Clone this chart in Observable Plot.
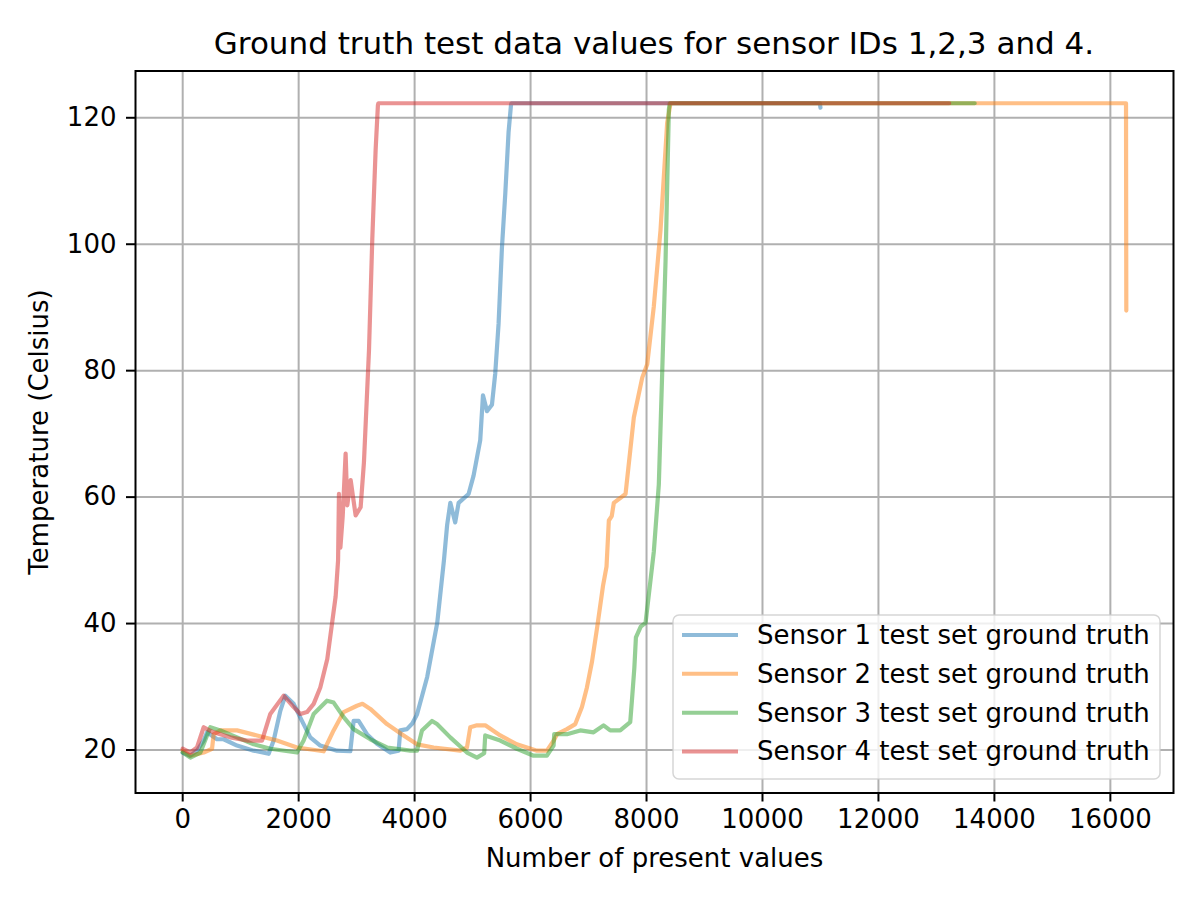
<!DOCTYPE html>
<html>
<head>
<meta charset="utf-8">
<script src="https://cdn.jsdelivr.net/npm/d3@7"></script>
<script src="https://cdn.jsdelivr.net/npm/@observablehq/plot@0.6"></script>
<style>
  body { margin: 0; background: #fff; font-family: "DejaVu Sans", sans-serif; }
  #wrap { position: relative; width: 1200px; height: 899px; overflow: hidden; }
  #title { box-sizing: border-box; height: 60px; padding-top: 28px; padding-left: 135px; width: 1173px;
           text-align: center; font-size: 31px; line-height: 30px; color: #000; white-space: nowrap; }
  #legend { position: absolute; left: 0; top: 0; pointer-events: none; }
</style>
</head>
<body>
<div id="wrap">
  <div id="title">Ground truth test data values for sensor IDs 1,2,3 and 4.</div>
  <div id="chart"></div>
</div>
<script>
const titleText = "Ground truth test data values for sensor IDs 1,2,3 and 4.";
const sensorNames = [
  "Sensor 1 test set ground truth",
  "Sensor 2 test set ground truth",
  "Sensor 3 test set ground truth",
  "Sensor 4 test set ground truth"
];
const sensorColors = ["#1f77b4", "#ff7f0e", "#2ca02c", "#d62728"];
const xTicks = [0, 2000, 4000, 6000, 8000, 10000, 12000, 14000, 16000];
const yTicks = [20, 40, 60, 80, 100, 120];

// [number of present values, temperature °C]
const sensor1 = [
  [0,19.6],[132,19.1],[247,19.9],[362,21.5],[420,22.8],[592,21.7],[707,21.7],[937,20.7],[1224,19.9],[1483,19.4],
  [1569,21.5],[1684,26.2],[1770,28.6],[1914,27.3],[2057,24.6],[2201,22.0],[2373,20.7],[2661,19.9],[2891,19.8],
  [2948,24.6],[3034,24.6],[3178,22.5],[3350,21.0],[3580,19.6],[3724,19.9],[3753,23.1],[3868,23.3],[3960,24.2],
  [4040,25.6],[4127,28.5],[4218,31.6],[4390,40.1],[4506,50.0],[4561,55.6],[4616,59.1],[4700,56.0],[4759,59.1],
  [4931,60.5],[5017,63.4],[5132,69.0],[5179,76.1],[5248,73.6],[5334,74.6],[5391,79.6],[5448,87.4],[5506,99.4],
  [5563,107.9],[5621,117.8],[5662,122.0],[5670,122.3],[10990,122.3],[11000,121.6]
];
const sensor2 = [
  [0,19.9],[132,19.1],[362,19.6],[506,20.2],[534,22.5],[649,23.1],[937,23.1],[1282,22.3],[1626,21.5],[1971,20.4],
  [2431,19.8],[2603,23.1],[2776,26.0],[3006,27.0],[3100,27.3],[3236,26.5],[3523,24.1],[3810,22.3],[4041,20.9],
  [4328,20.4],[4788,19.9],[4903,20.4],[4960,23.6],[5075,23.9],[5218,23.9],[5477,22.3],[5764,20.9],[6110,19.9],
  [6282,19.9],[6400,21.5],[6455,22.5],[6627,23.3],[6771,24.1],[6886,26.8],[6972,29.9],[7060,34.0],[7150,39.5],
  [7250,46.0],[7310,49.0],[7350,56.3],[7400,57.0],[7436,59.1],[7638,60.5],[7781,72.6],[7926,78.9],[8012,81.0],
  [8126,90.2],[8241,102.2],[8356,119.2],[8414,122.3],[16270,122.3],[16275,89.5]
];
const sensor3 = [
  [0,19.6],[132,18.8],[305,19.6],[420,22.3],[477,23.6],[649,23.1],[937,22.0],[1224,20.9],[1511,20.2],[1971,19.6],
  [2086,21.5],[2259,25.7],[2488,27.8],[2603,27.5],[2776,25.2],[2948,23.3],[3236,21.7],[3523,20.4],[3925,19.9],
  [4041,19.9],[4127,23.1],[4300,24.6],[4386,24.1],[4615,22.0],[4903,19.6],[5075,18.8],[5200,19.5],[5218,22.3],
  [5477,21.5],[5764,20.2],[6052,19.1],[6282,19.1],[6397,20.7],[6408,22.5],[6627,22.5],[6857,23.1],[7086,22.8],
  [7259,23.9],[7374,23.1],[7546,23.1],[7719,24.4],[7748,27.8],[7790,33.0],[7817,37.8],[7900,39.5],[7983,40.1],
  [8126,51.4],[8212,62.0],[8270,79.6],[8328,97.3],[8385,121.3],[8400,122.3],[13660,122.3]
];
const sensor4 = [
  [0,20.2],[132,19.6],[247,20.4],[362,23.6],[420,23.3],[534,22.8],[822,22.0],[1109,21.5],[1368,21.5],[1511,25.7],
  [1741,28.6],[1914,26.8],[2029,25.7],[2144,26.0],[2259,27.3],[2373,29.9],[2494,34.4],[2638,44.3],[2680,50.0],
  [2695,60.5],[2720,52.0],[2760,57.0],[2810,66.9],[2839,58.7],[2897,62.7],[2983,57.1],[3069,58.4],[3126,65.5],
  [3213,83.2],[3270,100.8],[3328,115.0],[3367,122.0],[3375,122.3],[13220,122.3]
];

const seriesList = [sensor1, sensor2, sensor3, sensor4];
const rows = seriesList.flatMap((s, i) => s.map(([x, y]) => ({sensor: sensorNames[i], x, y})));

const chart = Plot.plot({
  width: 1200,
  height: 839,
  marginTop: 10.5,
  marginBottom: 106.5,
  marginLeft: 135,
  marginRight: 27,
  style: {fontFamily: "DejaVu Sans", fontSize: "26px", color: "#000", background: "#fff", overflow: "visible"},
  x: {domain: [-814, 17089]},
  y: {domain: [13.2, 127.4]},
  color: {domain: sensorNames, range: sensorColors},
  marks: [
    Plot.gridX(xTicks, {stroke: "#b0b0b0", strokeOpacity: 1, strokeWidth: 2}),
    Plot.gridY(yTicks, {stroke: "#b0b0b0", strokeOpacity: 1, strokeWidth: 2}),
    Plot.line(rows, {x: "x", y: "y", z: "sensor", stroke: "sensor", strokeWidth: 4.2, strokeOpacity: 0.5}),
    Plot.frame({stroke: "#000", strokeWidth: 2}),
    Plot.axisX(xTicks, {tickSize: 9, tickPadding: 8, strokeWidth: 2, tickFormat: d => String(d),
      label: "Number of present values", labelAnchor: "center", labelOffset: 74, labelArrow: false}),
    Plot.axisY(yTicks, {tickSize: 9, tickPadding: 10, strokeWidth: 2, tickFormat: d => String(d),
      label: "Temperature (Celsius)", labelAnchor: "center", labelOffset: 106, labelArrow: false})
  ]
});
document.getElementById("chart").appendChild(chart);

// Legend overlay
const ns = "http://www.w3.org/2000/svg";
const leg = document.createElementNS(ns, "svg");
leg.setAttribute("id", "legend");
leg.setAttribute("width", 1200);
leg.setAttribute("height", 899);
const box = document.createElementNS(ns, "rect");
Object.entries({x: 673, y: 615, width: 487, height: 164, rx: 6, fill: "#fff", "fill-opacity": 0.8,
  stroke: "#cccccc", "stroke-opacity": 0.8, "stroke-width": 1.5}).forEach(([k, v]) => box.setAttribute(k, v));
leg.appendChild(box);
const rowY = [635, 673.8, 712.7, 751.6];
sensorNames.forEach((name, i) => {
  const ln = document.createElementNS(ns, "line");
  Object.entries({x1: 682, x2: 738, y1: rowY[i], y2: rowY[i], stroke: sensorColors[i], "stroke-opacity": 0.5,
    "stroke-width": 4}).forEach(([k, v]) => ln.setAttribute(k, v));
  leg.appendChild(ln);
  const tx = document.createElementNS(ns, "text");
  Object.entries({x: 757, y: rowY[i] + 8.8, "font-family": "DejaVu Sans", "font-size": 26, fill: "#000"})
    .forEach(([k, v]) => tx.setAttribute(k, v));
  tx.textContent = name;
  leg.appendChild(tx);
});
document.getElementById("wrap").appendChild(leg);
</script>
</body>
</html>
